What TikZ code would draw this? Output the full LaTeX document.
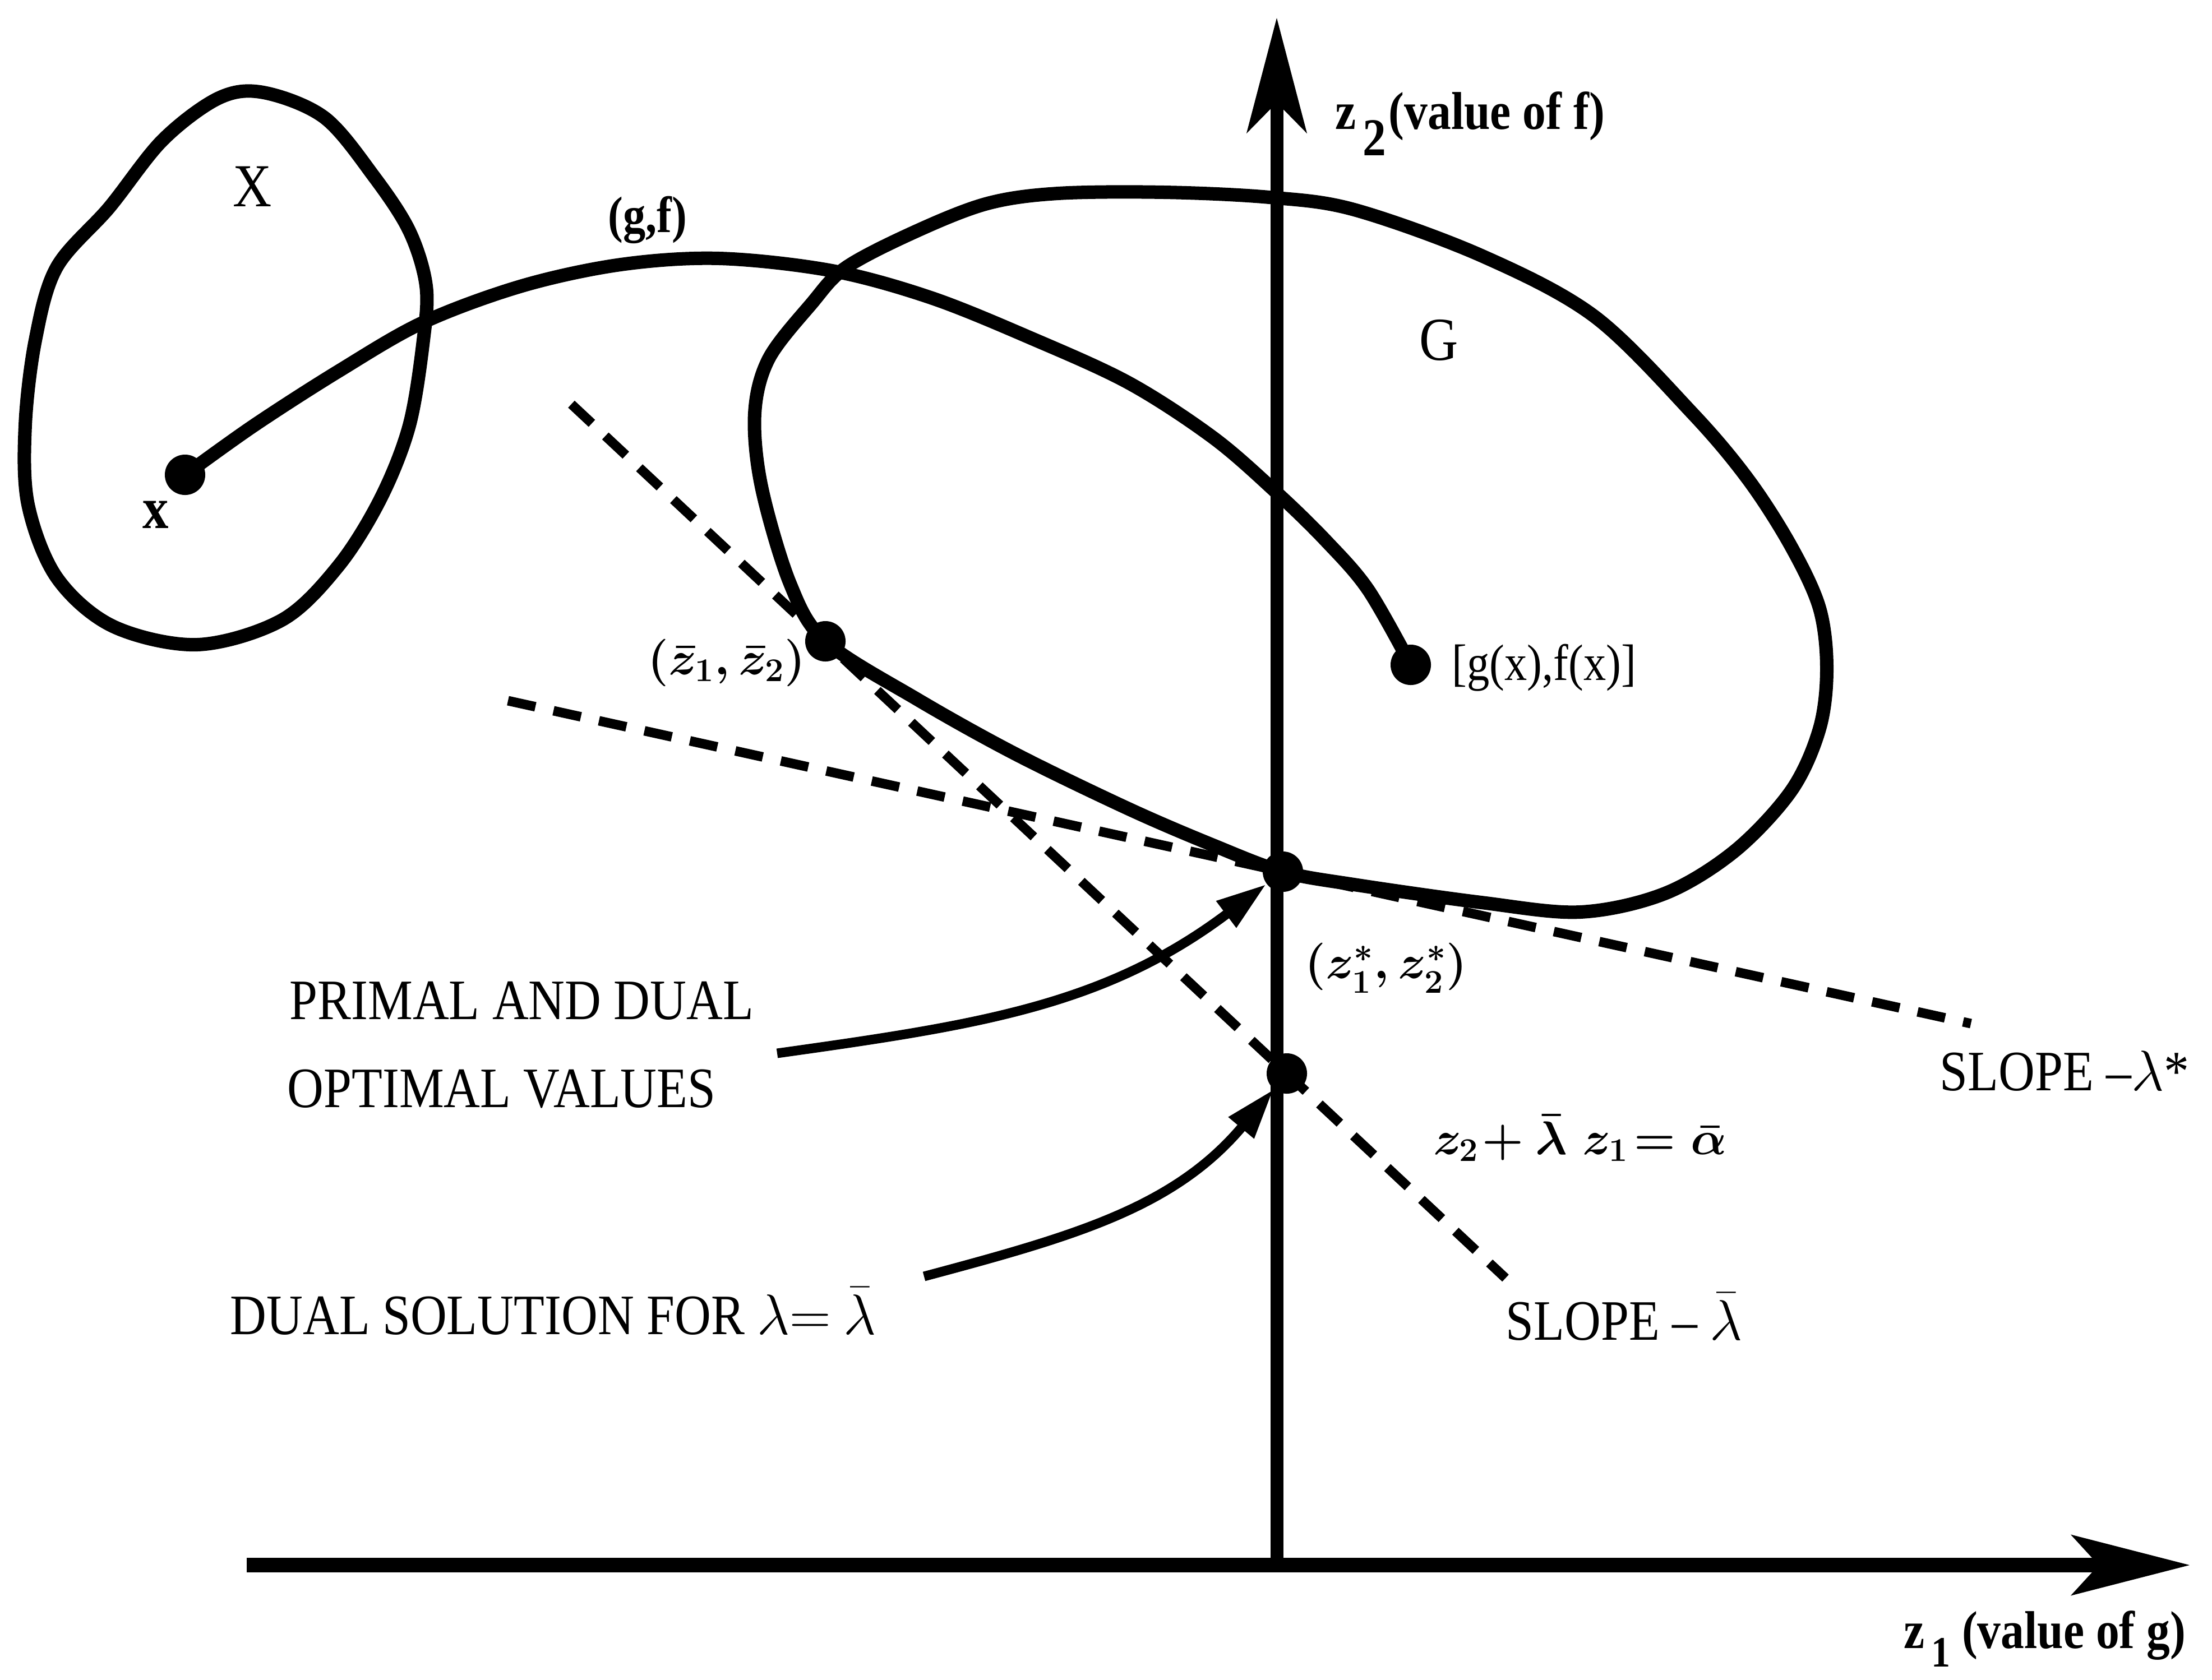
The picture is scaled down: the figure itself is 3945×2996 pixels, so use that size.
\RequirePackage{fix-cm}
\documentclass[tikz,border=0pt]{standalone}
\usepackage{fontspec}
\setmainfont{Liberation Serif}[FakeStretch=0.88]
\usetikzlibrary{arrows.meta}
\begin{document}
\begin{tikzpicture}[x=0.01cm,y=-0.01cm,
  thickln/.style={line width=0.24cm, line join=round, line cap=round},
  dashln/.style={line width=0.17cm, dash pattern=on 0.5cm off 0.33cm},
  dotnode/.style={circle, fill, inner sep=0pt, minimum size=0.72cm},
  lbl/.style={inner sep=0pt, font=\fontsize{29}{33}\selectfont},
  biglbl/.style={inner sep=0pt, font=\fontsize{31}{35}\selectfont},
  mlbl/.style={inner sep=0pt, font=\fontsize{24}{28}\selectfont\boldmath},
  axlbl/.style={inner sep=0pt, anchor=base west, font=\fontsize{27}{31}\selectfont\bfseries},
  callout/.style={line width=0.17cm, -{Triangle[length=0.9cm,width=0.55cm]}},
]
\useasboundingbox (0,0) rectangle (3945,2996);

% axes
\coordinate (o) at (2277,2792);
\coordinate (hs) at (440,2792);
\coordinate (ht) at (3905,2792);
\coordinate (vt) at (2277,32);
\draw[line width=0.26cm, -{Stealth[length=2.12cm,width=1.09cm,inset=0.5cm,line width=0pt]}] (hs) -- (ht);
\draw[line width=0.23cm, -{Stealth[length=2.06cm,width=1.08cm,inset=0.55cm,line width=0pt]}] (o) -- (vt);

% set X
\draw[thickln] plot[smooth cycle, tension=0.55] coordinates {
  (470,165) (579,210) (667,315) (730,412) (760,510) (755,607) (730,759)
  (679,889) (604,1009) (503,1106) (352,1150) (201,1117) (101,1030)
  (50,900) (45,759) (63,607) (101,477) (195,370) (290,250) (390,175)};

% set G
\draw[thickln] plot[smooth cycle, tension=0.55] coordinates {
  (1761,363) (1887,345) (2076,343) (2264,352) (2415,374) (2642,456)
  (2843,564) (3019,738) (3119,857) (3195,976) (3245,1085) (3258,1193)
  (3245,1300) (3195,1410) (3094,1518) (2969,1594) (2818,1627) (2642,1610)
  (2415,1578) (2288,1555) (2164,1508) (2013,1443) (1811,1345) (1635,1247)
  (1472,1144) (1409,1041) (1358,868) (1346,738) (1371,640) (1447,542)
  (1509,477) (1635,412)};

% dashed supporting lines
\coordinate (d1s) at (1019,721);
\coordinate (d1e) at (2685,2280);
\draw[dashln] (d1s) -- (d1e);
\coordinate (d2s) at (906,1250);
\coordinate (d2e) at (3515,1826);
\draw[dashln] (d2s) -- (d2e);

% mapping curve (g,f)
\draw[thickln] plot[smooth, tension=0.55] coordinates {
  (330,847) (453,759) (604,662) (755,575) (931,510) (1107,472) (1283,461)
  (1484,483) (1660,531) (1836,602) (2013,683) (2164,781) (2277,879)
  (2365,965) (2440,1052) (2516,1186)};

% points
\node[dotnode] (xpt) at (330,847) {};
\node[dotnode] (gxfx) at (2516,1186) {};
\node[dotnode] (zbar) at (1472,1144) {};
\node[dotnode] (zstar) at (2288,1555) {};
\node[dotnode] (dual) at (2295,1915) {};

% labels
\node[biglbl] (lX) at (450,333) {X};
\node[biglbl] (lG) at (2566,607) {G};
\node[inner sep=0pt, font=\fontsize{26}{30}\selectfont\bfseries] (lgf) at (1155,392) {(g,f)};
\node[inner sep=0pt, font=\fontsize{30}{34}\selectfont\bfseries] (lx) at (278,918) {x};
\node[inner sep=0pt, anchor=west, font=\fontsize{26}{30}\selectfont] (lgx) at (2589,1191) {[g(x),f(x)]};
\node[mlbl] (lzbar) at (1296,1182) {$(\bar{z}_1, \bar{z}_2)$};
\node[mlbl] (lzstar) at (2472,1727) {$(z_1^{*}, z_2^{*})$};
\node[mlbl] (leq) at (2818,2030) {$z_2\!+\bar{\lambda}\;z_1\!=\bar{\alpha}$};
\node[axlbl] (lz2) at (2381,230) {z\kern0.12em\raisebox{-0.5em}{2}\kern0.05em(value of f)};
\node[axlbl] (lz1) at (3395,2940) {z\kern0.12em\raisebox{-0.35em}{\fontsize{22}{26}\selectfont 1} (value of g)};
\node[lbl, anchor=base west] (lslope1) at (3459,1945) {SLOPE –$\lambda$*};
\node[lbl, anchor=base west] (lslope2) at (2685,2390) {SLOPE – $\bar{\lambda}$};
\node[lbl, anchor=base west] (lpd1) at (516,1818) {PRIMAL AND DUAL};
\node[lbl, anchor=base west] (lpd2) at (512,1975) {OPTIMAL VALUES};
\node[lbl, anchor=base west] (lds) at (410,2380) {DUAL SOLUTION FOR $\lambda{=}\ \bar{\lambda}$};

% callout arrows
\coordinate (pa) at (1386,1879);
\coordinate (da) at (1648,2277);
\draw[callout] (pa) to[out=8,in=217] (zstar);
\draw[callout] (da) to[out=15,in=230] (dual);
\end{tikzpicture}
\end{document}
